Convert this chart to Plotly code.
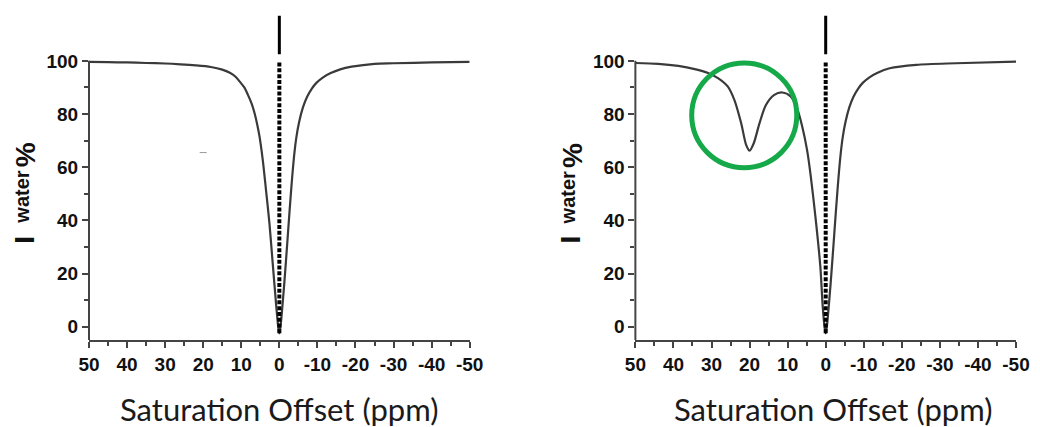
import plotly.graph_objects as go

# ---------------- data ----------------
ppm_left = [50, 45, 40, 35, 30, 26, 22, 18, 15, 13, 11.5, 10.4, 9.2, 8.25, 7.3, 6.5, 5.8, 5.2,
            4.35, 3.5, 2.6, 1.74, 0.87, 0.3, 0, -0.3, -1.3, -2.2, -3.1, -3.9, -4.5, -5.2, -6.2,
            -7.3, -8.5, -9.8, -11.5, -13.5, -16, -19, -25, -30, -40, -50]
iw_left = [99.6, 99.5, 99.4, 99.2, 99.0, 98.7, 98.3, 97.7, 96.7, 95.5, 94.0, 92.2, 90.0, 87.2,
           84.0, 80.3, 76.0, 71.5, 62.7, 51.4, 38.9, 23.8, 8.7, 0.0, -2.5, 0.0, 16.3, 33.8,
           51.4, 64.5, 71.5, 77.0, 82.5, 86.5, 89.5, 91.8, 93.8, 95.4, 96.8, 97.8, 98.9, 99.1,
           99.4, 99.6]

ppm_right = [50, 44, 38.7, 34.4, 30.9, 28.3, 25.7, 24.0, 22.2, 20.9, 20.0, 18.9, 17.4, 15.7,
             13.5, 11.4, 9.2, 7.5, 6.2, 4.9, 4.0, 2.7, 1.4, 0.8, 0.3, 0, -0.3, -1.3, -2.2,
             -3.1, -3.9, -4.5, -5.2, -6.2, -7.3, -8.5, -9.8, -11.5, -13.5, -16.8, -23.8,
             -34.2, -50]
iw_right = [99.2, 98.9, 98.1, 96.9, 95.4, 93.5, 90.3, 85.3, 76.5, 68.4, 66.2, 69.0, 76.5, 83.4,
            87.2, 88.1, 86.6, 82.0, 75.5, 66.5, 57.5, 41.4, 22.5, 8.0, 0.0, -2.5, 0.0, 16.3,
            33.8, 51.4, 64.5, 71.5, 77.0, 82.5, 86.5, 89.5, 91.8, 93.8, 95.4, 97.2, 98.5,
            99.1, 99.7]

water_peak_x = [0, 0]
water_dotted_y = [-2.5, 100]
water_solid_y = [102.5, 117]

stray_mark_x = [20]
stray_mark_y = [65.5]

# highlighted CEST dip (right panel)
circle_center = (21.4, 79.5)
circle_radius = (13.8, 19.7)

x_tickvals = [50, 40, 30, 20, 10, 0, -10, -20, -30, -40, -50]
x_ticktext = ["50", "40", "30", "20", "10", "0", "-10", "-20", "-30", "-40", "-50"]
x_minor = [45, 35, 25, 15, 5, -5, -15, -25, -35, -45]
y_tickvals = [0, 20, 40, 60, 80, 100]
y_ticktext = ["0", "20", "40", "60", "80", "100"]
y_minor = [10, 30, 50, 70, 90]

x_range = [50, -50]
y_range = [-5, 118]
y_axis_top = 100

x_title = "Saturation Offset (ppm)"

# ---------------- figure ----------------
W, H = 1040, 427
S = 0.9928                     # observed horizontal scale of the captured page
def hx(px):                    # target picture x -> page x
    return px / S

ML = round(hx(88))
MR = round(W - hx(1023))
MT, MB = 13, 87
PW = W - ML - MR
PH = H - MT - MB

def px_x(px):
    return (hx(px) - ML) / PW

def px_y(py):
    return (H - MB - py) / PH

AX = "#444444"
CURVE = "#3a3a3a"
tick_font = dict(family="Liberation Sans, Arial, sans-serif", size=19, color="#111111", weight="bold")

fig = go.Figure()

for xa, ya, xs, ys in [("x", "y", ppm_left, iw_left), ("x2", "y2", ppm_right, iw_right)]:
    fig.add_trace(go.Scatter(x=xs, y=ys, mode="lines", xaxis=xa, yaxis=ya,
                             line=dict(color=CURVE, width=2.2, shape="spline", smoothing=0.8),
                             showlegend=False, hoverinfo="skip"))
    fig.add_trace(go.Scatter(x=water_peak_x, y=water_dotted_y, mode="lines", xaxis=xa, yaxis=ya,
                             line=dict(color="#000000", width=4, dash="4px,1.8px"),
                             showlegend=False, hoverinfo="skip"))
    fig.add_trace(go.Scatter(x=water_peak_x, y=water_solid_y, mode="lines", xaxis=xa, yaxis=ya,
                             line=dict(color="#000000", width=3),
                             showlegend=False, hoverinfo="skip"))

fig.add_trace(go.Scatter(x=stray_mark_x, y=stray_mark_y, mode="markers", xaxis="x", yaxis="y",
                         marker=dict(symbol="line-ew", size=5, line=dict(color="#999999", width=1)),
                         showlegend=False, hoverinfo="skip"))

left_dom = [0, px_x(472)]
right_dom = [px_x(639), 1]

def xaxis(dom, anchor):
    return dict(domain=dom, anchor=anchor, range=x_range, showgrid=False, zeroline=False,
                showline=True, linecolor=AX, linewidth=2,
                tickmode="array", tickvals=x_tickvals, ticktext=x_ticktext,
                ticks="outside", ticklen=6, tickwidth=2, tickcolor=AX, tickfont=tick_font,
                minor=dict(tickmode="array", tickvals=x_minor, ticks="outside", ticklen=4,
                           tickwidth=2, tickcolor=AX, showgrid=False))

def yaxis(anchor):
    return dict(domain=[0, 1], anchor=anchor, range=y_range, showgrid=False, zeroline=False,
                showline=False,
                tickmode="array", tickvals=y_tickvals, ticktext=y_ticktext,
                ticks="outside", ticklen=6, tickwidth=2, tickcolor=AX, tickfont=tick_font,
                minor=dict(tickmode="array", tickvals=y_minor, ticks="outside", ticklen=4,
                           tickwidth=2, tickcolor=AX, showgrid=False))

fig.update_layout(
    width=W, height=H, autosize=False, margin=dict(l=ML, r=MR, t=MT, b=MB, pad=0),
    paper_bgcolor="white", plot_bgcolor="white",
    xaxis=xaxis(left_dom, "y"), yaxis=yaxis("x"),
    xaxis2=xaxis(right_dom, "y2"), yaxis2=yaxis("x2"),
)

shapes = []
frac_top = (y_axis_top - y_range[0]) / (y_range[1] - y_range[0])
for xr, yr in [("x domain", "y domain"), ("x2 domain", "y2 domain")]:
    shapes.append(dict(type="line", xref=xr, yref=yr, x0=0, x1=0, y0=0, y1=frac_top,
                       line=dict(color=AX, width=2)))
cx, cy = circle_center
rx, ry = circle_radius
shapes.append(dict(type="circle", xref="x2", yref="y2", x0=cx + rx, x1=cx - rx,
                   y0=cy - ry, y1=cy + ry, line=dict(color="#16a94a", width=5)))
fig.update_layout(shapes=shapes)

ann = []
title_font_big = dict(family="Liberation Sans, Arial, sans-serif", size=28, color="#111111", weight="bold")
title_font_small = dict(family="Liberation Sans, Arial, sans-serif", size=20, color="#111111", weight="bold")
for off in [0, 551]:
    ann.append(dict(text="I", x=px_x(23 + off), y=px_y(239.5), xref="paper", yref="paper",
                    xanchor="center", yanchor="middle", textangle=-90, showarrow=False,
                    font=title_font_big))
    ann.append(dict(text="water", x=px_x(20 + off), y=px_y(197.5), xref="paper", yref="paper",
                    xanchor="center", yanchor="middle", textangle=-90, showarrow=False,
                    font=title_font_small))
    ann.append(dict(text="%", x=px_x(24 + off), y=px_y(155), xref="paper", yref="paper",
                    xanchor="center", yanchor="middle", textangle=-90, showarrow=False,
                    font=title_font_big))
for cxp in [280, 838]:
    ann.append(dict(text=x_title, x=px_x(cxp), y=px_y(409), xref="paper", yref="paper",
                    xanchor="center", yanchor="middle", showarrow=False,
                    font=dict(family="Lato, Open Sans, sans-serif", size=31, color="#1a1a1a")))
fig.update_layout(annotations=ann)

fig.write_html("out.html",
               config={"displayModeBar": False, "responsive": False},
               post_script=("document.documentElement.style.margin='0';"
                            "document.documentElement.style.overflow='hidden';"
                            "document.body.style.margin='0';"
                            "document.body.style.overflow='hidden';"))
